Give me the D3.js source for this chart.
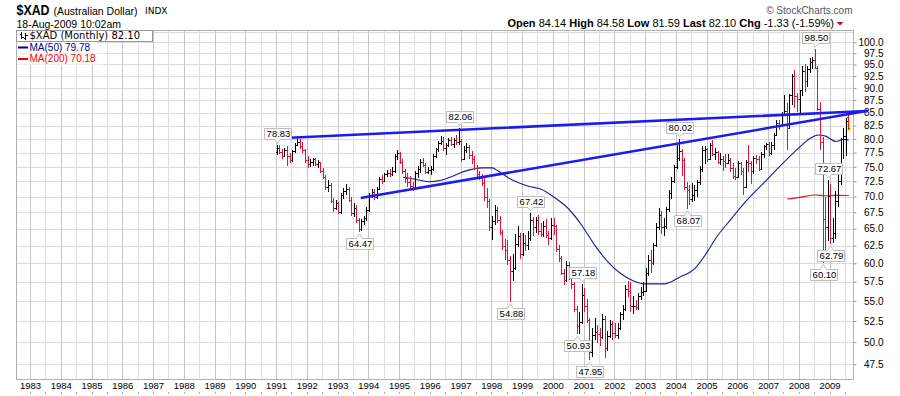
<!DOCTYPE html>
<html>
<head>
<meta charset="utf-8">
<script src="https://cdn.jsdelivr.net/npm/d3@7"></script>
<style>
  body { margin: 0; background: #fff; }
  svg { display: block; font-family: "Liberation Sans", Arial, sans-serif; }
</style>
</head>
<body>
<svg id="chart" width="900" height="396"></svg>
<script>
// monthly bars, first one is Jan 1991
const firstMonth = "1991-01"
const opens = [77.6,78.3,77.6,76.9,78.0,76.8,76.2,77.8,78.9,79.5,78.6,77.9,
  76.1,75.4,75.8,76.3,75.5,75.8,74.2,73.3,71.6,71.9,69.3,68.2,
  68.9,67.6,70.3,70.9,71.2,69.5,67.4,68.2,66.3,64.9,66.1,66.6,
  67.9,70.3,70.8,70.0,71.3,72.9,72.6,73.7,74.0,73.7,74.2,76.8,
  77.4,75.9,74.2,73.0,72.4,71.8,71.4,73.9,74.6,75.9,75.3,74.1,
  74.4,74.6,76.9,78.1,79.2,79.6,78.4,78.9,79.8,79.0,79.7,79.5,
  79.6,76.4,78.0,78.5,77.0,76.3,74.8,73.8,73.1,72.2,69.9,69.3,
  65.2,66.2,67.9,66.3,64.5,62.4,61.9,60.5,58.9,59.3,62.8,63.9,
  61.3,62.9,62.6,63.6,66.3,65.2,66.3,64.7,64.2,65.4,64.0,63.6,
  65.6,65.4,62.0,60.8,58.7,57.7,59.8,58.3,57.2,54.0,51.9,52.4,
  55.8,54.3,52.6,48.9,50.8,51.2,50.9,50.6,52.8,49.3,50.7,52.1,
  51.1,50.8,51.7,53.3,54.0,56.5,56.3,54.3,54.4,54.2,55.6,56.2,
  56.3,58.7,60.4,60.1,62.6,65.3,67.1,65.3,65.4,68.0,70.6,72.6,
  75.0,76.6,77.8,76.2,71.6,71.1,69.6,70.3,71.1,72.4,74.6,77.9,
  78.1,76.3,78.9,77.3,77.6,75.9,76.3,76.0,75.6,76.2,74.8,73.4,
  73.3,75.7,74.2,71.6,75.9,75.6,74.3,76.5,76.3,74.6,77.3,78.7,
  79.0,77.4,78.9,80.8,82.9,82.6,84.8,85.4,82.1,88.5,92.6,88.4,
  87.8,89.5,93.6,91.4,94.1,95.6,96.1,94.3,85.7,79.4,66.4,65.2,
  70.1,63.6,64.4,69.3,72.6,80.0,80.6,84.14]
const highs = [78.83,78.9,78.2,78.4,78.6,77.4,78.0,79.2,80.2,79.9,79.4,78.2,
  76.9,76.3,76.6,76.6,76.1,75.9,74.8,73.6,72.8,72.2,69.8,69.4,
  69.2,70.6,71.4,72.0,71.6,69.9,69.0,68.6,66.6,66.5,67.0,68.4,
  70.6,71.3,71.2,71.6,73.2,73.6,74.0,74.5,74.6,74.9,77.3,77.9,
  77.6,76.3,74.6,73.9,73.4,72.4,74.2,75.2,76.3,76.6,75.6,74.9,
  75.1,77.2,78.4,79.6,80.6,80.3,79.2,80.2,80.4,80.1,80.8,82.06,
  80.0,78.6,79.3,78.8,77.7,76.8,75.3,74.3,73.8,73.4,71.4,69.6,
  66.9,68.7,68.4,66.9,64.8,63.5,63.3,61.0,61.3,64.2,65.4,64.3,
  64.3,64.1,64.6,67.42,66.8,66.8,67.1,65.9,66.2,66.4,64.6,66.6,
  66.6,65.6,62.6,61.0,59.2,60.3,60.2,58.9,57.4,54.3,53.6,57.18,
  56.6,55.2,52.9,51.6,52.9,52.0,51.6,53.4,53.1,51.3,52.6,52.5,
  52.3,52.2,53.6,54.5,57.0,57.6,57.4,55.6,55.1,56.0,56.8,57.4,
  59.4,61.2,61.8,62.9,65.9,68.1,67.7,66.6,68.4,71.0,73.2,75.3,
  78.9,80.02,78.2,76.6,72.4,71.9,72.3,71.9,72.8,75.2,78.6,78.6,
  78.4,79.3,79.8,78.3,77.8,77.5,76.9,77.3,77.3,76.6,75.6,74.8,
  76.0,75.8,74.7,76.1,78.8,76.0,76.8,77.0,76.8,77.6,78.9,79.3,
  79.5,79.5,81.0,83.6,83.6,85.1,88.6,87.0,88.8,93.0,93.7,88.9,
  89.6,94.7,95.0,94.6,96.5,96.6,98.50,94.6,87.1,80.3,69.9,72.67,
  72.0,66.6,70.9,73.5,80.1,82.0,84.0,84.58]
const lows = [77.0,77.3,76.3,76.7,75.2,75.6,75.9,77.5,78.6,78.2,77.5,75.6,
  74.7,74.9,75.2,75.1,74.8,73.9,72.9,71.1,70.8,68.9,67.6,67.9,
  67.2,67.3,69.6,70.3,69.1,67.0,66.7,65.9,64.47,64.6,65.6,66.2,
  67.6,69.8,69.4,69.6,71.1,72.1,72.4,73.3,73.2,73.4,74.0,76.2,
  75.4,73.8,72.3,71.6,71.4,70.9,71.2,73.1,74.0,74.9,73.8,73.7,
  73.5,74.3,76.5,77.6,78.9,77.8,77.1,78.5,78.6,78.4,78.9,78.8,
  75.8,76.1,77.4,76.3,75.5,74.4,73.3,72.7,71.8,69.3,68.2,64.6,
  63.3,65.6,65.8,64.0,61.9,60.4,59.8,54.88,57.6,59.1,62.3,60.6,
  61.0,61.7,61.9,63.2,63.9,64.4,64.0,63.7,63.8,63.6,62.6,63.3,
  64.0,61.6,60.2,58.4,57.0,57.4,57.7,56.5,53.6,50.93,51.0,52.1,
  53.6,52.2,47.95,48.3,50.2,49.9,49.6,50.4,48.2,49.0,50.5,50.3,
  50.5,50.4,51.4,52.6,53.7,55.5,53.6,53.3,53.9,53.9,55.1,55.6,
  56.1,58.3,58.6,59.7,62.3,64.8,64.2,63.9,64.9,67.6,69.6,72.2,
  74.6,76.0,73.4,71.0,68.07,68.6,69.2,69.3,69.9,71.9,74.1,75.4,
  75.9,76.1,76.9,76.1,75.4,75.3,74.3,74.8,75.4,74.1,72.9,72.7,
  73.0,73.5,70.2,71.4,74.1,72.0,73.8,75.4,74.2,74.4,76.6,78.0,
  76.8,77.0,78.0,80.6,81.6,82.4,84.3,77.9,81.9,86.6,85.9,85.2,
  84.8,88.4,89.2,90.2,93.2,94.0,94.0,85.4,77.9,60.10,61.7,63.1,
  62.79,62.9,63.4,68.3,71.9,76.4,76.8,81.59]
const closes = [78.3,77.6,76.9,78.0,76.8,76.2,77.8,78.9,79.5,78.6,77.9,76.1,
  75.4,75.8,76.3,75.5,75.8,74.2,73.3,71.6,71.9,69.3,68.2,68.9,
  67.6,70.3,70.9,71.2,69.5,67.4,68.2,66.3,64.9,66.1,66.6,67.9,
  70.3,70.8,70.0,71.3,72.9,72.6,73.7,74.0,73.7,74.2,76.8,77.4,
  75.9,74.2,73.0,72.4,71.8,71.4,73.9,74.6,75.9,75.3,74.1,74.4,
  74.6,76.9,78.1,79.2,79.6,78.4,78.9,79.8,79.0,79.7,79.5,79.6,
  76.4,78.0,78.5,77.0,76.3,74.8,73.8,73.1,72.2,69.9,69.3,65.2,
  66.2,67.9,66.3,64.5,62.4,61.9,60.5,58.9,59.3,62.8,63.9,61.3,
  62.9,62.6,63.6,66.3,65.2,66.3,64.7,64.2,65.4,64.0,63.6,65.6,
  65.4,62.0,60.8,58.7,57.7,59.8,58.3,57.2,54.0,51.9,52.4,55.8,
  54.3,52.6,48.9,50.8,51.2,50.9,50.6,52.8,49.3,50.7,52.1,51.1,
  50.8,51.7,53.3,54.0,56.5,56.3,54.3,54.4,54.2,55.6,56.2,56.3,
  58.7,60.4,60.1,62.6,65.3,67.1,65.3,65.4,68.0,70.6,72.6,75.0,
  76.6,77.8,76.2,71.6,71.1,69.6,70.3,71.1,72.4,74.6,77.9,78.1,
  76.3,78.9,77.3,77.6,75.9,76.3,76.0,75.6,76.2,74.8,73.4,73.3,
  75.7,74.2,71.6,75.9,75.6,74.3,76.5,76.3,74.6,77.3,78.7,79.0,
  77.4,78.9,80.8,82.9,82.6,84.8,85.4,82.1,88.5,92.6,88.4,87.8,
  89.5,93.6,91.4,94.1,95.6,96.1,94.3,85.7,79.4,66.4,65.2,70.1,
  63.6,64.4,69.3,72.6,80.0,80.6,83.43,82.10]

// moving averages
const ma50Months = ["1995-02","1995-07","1995-12","1996-05","1996-09","1997-02","1997-09","1998-01","1998-03","1998-08",
  "1999-03","1999-08","2000-01","2000-07","2000-12","2001-05","2001-10","2002-03","2002-08","2003-01","2003-08",
  "2004-02","2004-08","2005-01","2005-04","2005-10","2006-04","2006-11","2007-05","2007-12","2008-05","2008-08",
  "2008-11","2009-03","2009-06","2009-08"]
const ma50Values = [73.2,72.85,72.45,72.7,73.3,74.2,74.8,74.8,74.3,72.9,
  71.7,71.2,69.9,67.9,65.4,62.5,60.2,58.6,57.6,57.2,57.2,
  58.1,59.3,61.7,63.5,66.4,69.3,72.3,75.0,78.1,80.1,80.7,
  80.5,79.5,79.9,79.78]
const ma200Months = ["2007-08","2008-01","2008-07","2008-11","2009-03","2009-08"]
const ma200Values = [69.6,69.87,70.25,70.14,70.2,70.18]

// hand drawn trend lines (start point, shared end point)
const trendStartMonths = ["1991-06","1993-10"]
const trendStartValues = [80.2,69.8]
const trendEndMonth = "2010-03"
const trendEndValue = 85.3

// labelled extremes
const labelMonths = ["1991-01","1993-09","1996-12","1998-08","1999-04","2000-10","2000-12","2001-03","2004-02","2004-05","2008-07","2008-10","2008-12","2009-01"]
const labelValues = [78.83,64.47,82.06,54.88,67.42,50.93,57.18,47.95,80.02,68.07,98.50,60.10,72.67,62.79]
const labelSides = ["high","low","high","low","high","low","high","low","high","low","high","low","high","low"]

const yTickValues = d3.range(0, 22).map(k => 47.5 + k * 2.5)
const firstYear = 1983
const lastYear = 2009

const svg = d3.select("#chart")
const pL = 16, pR = 853, pT = 30, pB = 379.5

const monthIndex = s => {
  const [yy, mm] = s.split("-").map(Number)
  return (yy - firstYear) * 12 + mm - 1
}

const x = d3.scaleLinear().domain([0, (lastYear - firstYear) * 12]).range([30, 829.5])
const y = d3.scaleLog().domain([100, 47.5]).range([42.3, 364.3])
const cx = i => x(i) + 1.28

// grid
const grid = svg.append("g")
const gridY = d3.range(0, 24).map(k => 47.5 + k * 2.5).filter(v => y(v) > pT && y(v) < pB)
grid.selectAll("line.h").data(gridY).join("line")
  .attr("x1", pL).attr("x2", pR)
  .attr("y1", d => Math.round(y(d)) + 0.5).attr("y2", d => Math.round(y(d)) + 0.5)
  .attr("stroke", "#dcdcdc")
const gridX = d3.range(0, 321, 6).filter(i => x(i) > pL && x(i) < pR)
grid.selectAll("line.v").data(gridX).join("line")
  .attr("x1", d => Math.round(x(d)) + 0.5).attr("x2", d => Math.round(x(d)) + 0.5)
  .attr("y1", pT).attr("y2", pB)
  .attr("stroke", d => d % 12 === 0 ? "#c6c6c6" : "#e0e0e0")
svg.append("rect").attr("x", pL + 0.5).attr("y", pT + 0.5)
  .attr("width", pR - pL).attr("height", pB - pT - 0.5)
  .attr("fill", "none").attr("stroke", "#b0b0b0")

// axes
const yAxis = svg.append("g").attr("transform", `translate(${pR + 0.5},0)`)
  .call(d3.axisRight(y).tickValues(yTickValues).tickFormat(d3.format(".1f")).tickSize(3))
yAxis.select(".domain").remove()
yAxis.selectAll("line").attr("stroke", "#999")
yAxis.selectAll("text").attr("x", 30).attr("text-anchor", "end").attr("dy", "0.33em")
  .style("font-size", "10px").style("font-family", "'Liberation Sans', Arial").attr("fill", "#000")

const xAxis = svg.append("g").attr("transform", `translate(0,${pB})`)
  .call(d3.axisBottom(x).tickValues(d3.range(0, 313, 12)).tickFormat(i => firstYear + i / 12).tickSize(0).tickPadding(2.5))
xAxis.select(".domain").remove()
xAxis.selectAll("text").style("font-size", "9.5px").style("font-family", "'Liberation Sans', Arial").attr("fill", "#000")
svg.append("g").selectAll("line").data(gridX).join("line")
  .attr("x1", d => Math.round(x(d)) + 0.5).attr("x2", d => Math.round(x(d)) + 0.5)
  .attr("y1", 392).attr("y2", 394).attr("stroke", "#aaa")

// moving averages
const m0 = monthIndex(firstMonth)
const ma50 = ma50Months.map((m, k) => ({ i: monthIndex(m), v: ma50Values[k] }))
const ma200 = ma200Months.map((m, k) => ({ i: monthIndex(m), v: ma200Values[k] }))
const maLine = d3.line().x(d => cx(d.i)).y(d => y(d.v)).curve(d3.curveMonotoneX)
svg.append("path").attr("d", maLine(ma50)).attr("fill", "none").attr("stroke", "#1a1a9a").attr("stroke-width", 1.1)
svg.append("path").attr("d", maLine(ma200)).attr("fill", "none").attr("stroke", "#ee1111").attr("stroke-width", 1.1)

// bars
const bars = opens.map((o, k) => ({
  i: m0 + k, o, h: highs[k], l: lows[k], c: closes[k],
  down: k > 0 && closes[k] < closes[k - 1]
}))
const last = bars[bars.length - 1]
svg.append("rect")
  .attr("x", Math.floor(cx(last.i)) - 1.5).attr("y", Math.round(y(last.h)) - 1.5)
  .attr("width", 4).attr("height", Math.round(y(last.l)) - Math.round(y(last.h)) + 3)
  .attr("fill", "#ffff00")

const barG = svg.append("g").attr("shape-rendering", "crispEdges")
const color = d => d.down ? "#dc143c" : "#000"
barG.selectAll("rect.hl").data(bars).join("rect")
  .attr("x", d => Math.floor(cx(d.i)))
  .attr("y", d => Math.round(y(d.h)))
  .attr("width", 1)
  .attr("height", d => Math.max(1, Math.round(y(d.l)) - Math.round(y(d.h))))
  .attr("fill", color)
barG.selectAll("rect.o").data(bars).join("rect")
  .attr("x", d => Math.floor(cx(d.i)) - 1).attr("y", d => Math.round(y(d.o)))
  .attr("width", 1).attr("height", 1).attr("fill", color)
barG.selectAll("rect.c").data(bars).join("rect")
  .attr("x", d => Math.floor(cx(d.i)) + 1).attr("y", d => Math.round(y(d.c)))
  .attr("width", 1).attr("height", 1).attr("fill", color)

// trend lines
const tEnd = monthIndex(trendEndMonth)
svg.append("g").selectAll("line").data(trendStartMonths).join("line")
  .attr("x1", (m) => cx(monthIndex(m)))
  .attr("y1", (m, k) => y(trendStartValues[k]))
  .attr("x2", cx(tEnd)).attr("y2", y(trendEndValue))
  .attr("stroke", "#1c1cf0").attr("stroke-width", 2.6).attr("stroke-linecap", "round")

// extreme labels
const lab = svg.append("g").style("font-size", "9.5px")
labelMonths.forEach((m, k) => {
  const bx = Math.floor(cx(monthIndex(m))) + 0.5
  const yv = y(labelValues[k])
  const hi = labelSides[k] === "high"
  const w = 27, h = 11
  const by = hi ? Math.round(yv) - 6 - h + 0.5 : Math.round(yv) + 6 + 0.5
  const bl = Math.round(bx - w / 2)
  const tipY = hi ? yv - 2 : yv + 2
  const baseY = hi ? by + h : by
  lab.append("path")
    .attr("d", `M${bl + 0.5},${by}h${w}v${h}h${-w}Z`)
    .attr("fill", "#fff").attr("stroke", "#bdbdbd")
  lab.append("path")
    .attr("d", `M${bx - 3},${baseY}L${bx},${tipY}L${bx + 3},${baseY}`)
    .attr("fill", "#fff").attr("stroke", "#bdbdbd")
  lab.append("line").attr("x1", bx - 2.5).attr("x2", bx + 2.5).attr("y1", baseY).attr("y2", baseY)
    .attr("stroke", "#fff").attr("stroke-width", 1.2)
  lab.append("text").attr("x", bx + 1).attr("y", by + 8.8).attr("text-anchor", "middle")
    .attr("fill", "#000").text(labelValues[k].toFixed(2))
})

// header
svg.append("text").attr("x", 16.5).attr("y", 15).style("font-size", "14px").style("font-weight", "bold")
  .attr("textLength", 33).attr("lengthAdjust", "spacingAndGlyphs").text("$XAD")
svg.append("text").attr("x", 53.5).attr("y", 15).style("font-size", "10.5px").text("(Australian Dollar)")
svg.append("text").attr("x", 145).attr("y", 14).style("font-size", "9px").style("font-family", "'DejaVu Sans'").text("INDX")
svg.append("text").attr("x", 16.5).attr("y", 27.5).style("font-size", "10.5px").text("18-Aug-2009 10:02am")
svg.append("text").attr("x", 852.5).attr("y", 13.5).attr("text-anchor", "end").style("font-size", "10px").attr("fill", "#555").text("\u00a9 StockCharts.com")

const quote = [["Open", 1], [" 84.14 ", 0], ["High", 1], [" 84.58 ", 0], ["Low", 1], [" 81.59 ", 0],
  ["Last", 1], [" 82.10 ", 0], ["Chg", 1], [" -1.33 (-1.59%)", 0]]
svg.append("text").attr("x", 834).attr("y", 26.5).attr("text-anchor", "end")
  .style("font-size", "11px").style("white-space", "pre")
  .selectAll("tspan").data(quote).join("tspan")
  .style("font-weight", d => d[1] ? "bold" : "normal").text(d => d[0])
svg.append("path").attr("d", "M836.5,22L843.5,22L840,25.5Z").attr("fill", "#c0102a")

// legend
svg.append("rect").attr("x", 16.5).attr("y", 30.5).attr("width", 136).attr("height", 11)
  .attr("fill", "#fff").attr("stroke", "#999")
const icon = svg.append("g").attr("stroke", "#000").attr("shape-rendering", "crispEdges")
icon.append("line").attr("x1", 21.5).attr("x2", 21.5).attr("y1", 32).attr("y2", 39)
icon.append("line").attr("x1", 19.5).attr("x2", 21.5).attr("y1", 34.5).attr("y2", 34.5)
icon.append("line").attr("x1", 21.5).attr("x2", 23.5).attr("y1", 37.5).attr("y2", 37.5)
icon.append("line").attr("x1", 25.5).attr("x2", 25.5).attr("y1", 33).attr("y2", 40)
icon.append("line").attr("x1", 23.5).attr("x2", 25.5).attr("y1", 38.5).attr("y2", 38.5)
icon.append("line").attr("x1", 25.5).attr("x2", 27.5).attr("y1", 35.5).attr("y2", 35.5)
svg.append("text").attr("x", 29.5).attr("y", 39.3).style("font-size", "10px").style("font-family", "'DejaVu Sans'")
  .text("$XAD (Monthly) 82.10")

const legendRows = [["MA(50) 79.78", "#00008b", 50.5], ["MA(200) 70.18", "#ff0000", 62]]
legendRows.forEach(([t, c, by]) => {
  svg.append("rect").attr("x", 17).attr("y", by - 8.5).attr("width", t.length * 5.6 + 13).attr("height", 11).attr("fill", "#fff")
  svg.append("line").attr("x1", 18).attr("x2", 28).attr("y1", by - 3).attr("y2", by - 3).attr("stroke", c).attr("stroke-width", 2)
  svg.append("text").attr("x", 29.5).attr("y", by).style("font-size", "10px").attr("fill", c).text(t)
})
</script>
</body>
</html>
